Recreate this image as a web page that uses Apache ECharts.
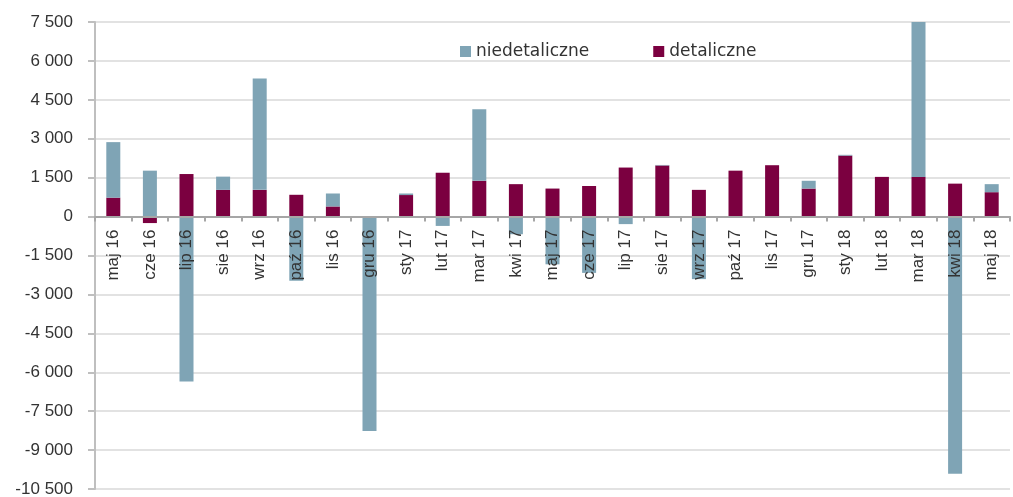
<!DOCTYPE html>
<html>
<head>
<meta charset="utf-8">
<script src="https://cdn.jsdelivr.net/npm/echarts@6/dist/echarts.min.js"></script>
<style>
  html, body { margin: 0; padding: 0; background: #fff; }
  #chart-container { width: 1013px; height: 497px; }
</style>
</head>
<body>
<div id="chart-container"></div>
<script>
var months = ['maj 16', 'cze 16', 'lip 16', 'sie 16', 'wrz 16', 'paź 16', 'lis 16', 'gru 16',
  'sty 17', 'lut 17', 'mar 17', 'kwi 17', 'maj 17', 'cze 17', 'lip 17', 'sie 17', 'wrz 17',
  'paź 17', 'lis 17', 'gru 17', 'sty 18', 'lut 18', 'mar 18', 'kwi 18', 'maj 18'];

var detaliczne = [730, -250, 1640, 1030, 1030, 840, 390, 0,
  830, 1690, 1380, 1250, 1080, 1180, 1890, 1970, 1030,
  1770, 1980, 1080, 2350, 1530, 1530, 1270, 940];

var niedetaliczne = [2140, 1770, -6360, 510, 4290, -2470, 500, -8260,
  60, -360, 2760, -680, -1840, -2170, -290, 20, -2410,
  0, 0, 300, 30, 0, 6070, -9910, 310];

var yMin = -10500, yMax = 7500, yStep = 1500;

var dom = document.getElementById('chart-container');
var myChart = echarts.init(dom, null, { renderer: 'canvas' });

function fmt(v) {
  var s = String(Math.abs(v));
  s = s.replace(/\B(?=(\d{3})+(?!\d))/g, ' ');
  return (v < 0 ? '-' : '') + s;
}

// grid box, x axis is shifted up to the zero line
var gridTop = 22, gridBottom = 8;
var plotH = 497 - gridTop - gridBottom;
var zeroOffset = -plotH * (0 - yMin) / (yMax - yMin);

var option = {
  animation: false,
  backgroundColor: '#fff',
  legend: {
    data: ['niedetaliczne', 'detaliczne'],
    left: 455,
    top: 38,
    itemWidth: 11,
    itemHeight: 11,
    itemGap: 64,
    icon: 'rect',
    textStyle: { fontFamily: 'DejaVu Sans', fontSize: 17, color: '#333' }
  },
  grid: { left: 95, right: 3, top: gridTop, bottom: gridBottom, containLabel: false, outerBoundsMode: 'none' },
  xAxis: {
    type: 'category',
    data: months,
    position: 'bottom',
    offset: zeroOffset,
    z: 10,
    axisLine: { onZero: false, lineStyle: { color: '#a6a6a6', width: 2 } },
    axisTick: { show: true, length: 5, lineStyle: { color: '#a6a6a6', width: 2 } },
    axisLabel: {
      rotate: 90,
      margin: 13,
      interval: 0,
      fontFamily: 'Liberation Sans',
      fontSize: 17,
      color: '#333'
    }
  },
  yAxis: {
    type: 'value',
    min: yMin,
    max: yMax,
    interval: yStep,
    axisLine: { show: true, lineStyle: { color: '#bfbfbf', width: 2 } },
    axisTick: { show: true, length: 7, lineStyle: { color: '#bfbfbf', width: 2 } },
    splitLine: { lineStyle: { color: '#d9d9d9', width: 1.5 } },
    axisLabel: {
      margin: 22,
      fontFamily: 'Liberation Sans',
      fontSize: 17,
      color: '#333',
      formatter: fmt
    }
  },
  series: [
    {
      name: 'detaliczne',
      type: 'bar',
      stack: 'total',
      barWidth: 14,
      itemStyle: { color: '#7b0040' },
      data: detaliczne
    },
    {
      name: 'niedetaliczne',
      type: 'bar',
      stack: 'total',
      barWidth: 14,
      itemStyle: { color: '#7fa4b5' },
      data: niedetaliczne
    }
  ]
};

myChart.setOption(option);
window.addEventListener('resize', myChart.resize);
</script>
</body>
</html>
